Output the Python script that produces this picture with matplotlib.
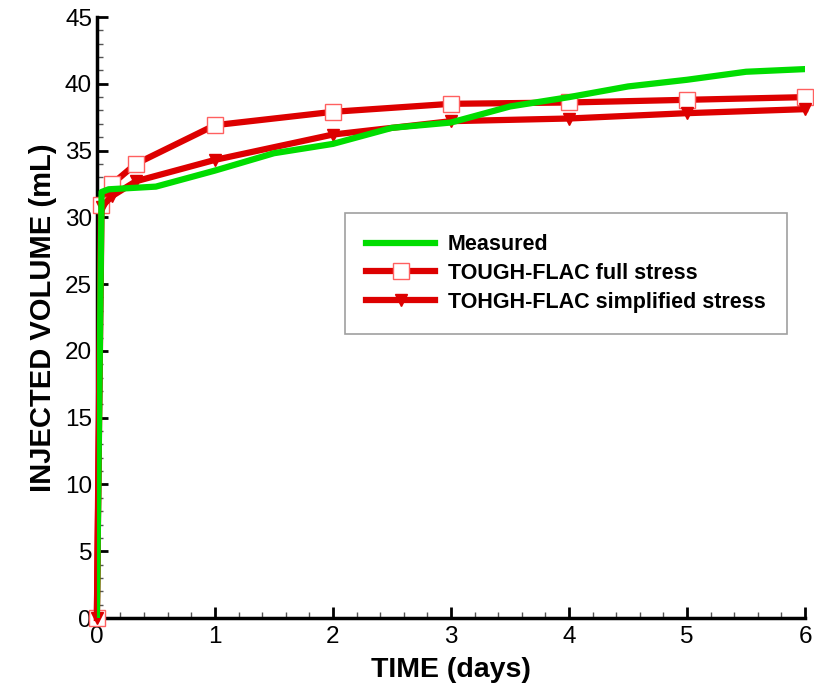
import matplotlib.pyplot as plt
from matplotlib.ticker import MultipleLocator

plt.rcParams['font.family'] = ['Liberation Sans', 'DejaVu Sans']

# measured injected volume
t_meas = [0, 0.04, 0.1, 0.5, 1, 1.5, 2, 2.5, 3, 3.5, 4, 4.5, 5, 5.5, 6]
v_meas = [0, 31.9, 32.1, 32.3, 33.5, 34.8, 35.5, 36.7, 37.1, 38.3, 39.0, 39.8, 40.3, 40.9, 41.1]

# TOUGH-FLAC full stress
t_full = [0, 0.035, 0.13, 0.33, 1, 2, 3, 4, 5, 6]
v_full = [0, 30.9, 32.5, 34.0, 36.9, 37.9, 38.5, 38.6, 38.8, 39.0]

# TOUGH-FLAC simplified stress
t_simp = [0, 0.04, 0.13, 0.33, 1, 2, 3, 4, 5, 6]
v_simp = [0, 30.8, 31.6, 32.7, 34.3, 36.2, 37.2, 37.4, 37.8, 38.1]

red = '#dd0000'
green = '#00dd00'

fig = plt.figure(figsize=(8.14, 6.94), dpi=100)
ax = fig.add_axes([0.119, 0.1095, 0.87, 0.866])

ax.plot(t_full, v_full, color=red, lw=4.5, marker='s', ms=12,
        mfc='white', mec='#ff6060', mew=1, label='TOUGH-FLAC full stress',
        zorder=3, clip_on=False)
ax.plot(t_simp, v_simp, color=red, lw=4.5, marker='v', ms=9,
        mfc=red, mec=red, label='TOHGH-FLAC simplified stress',
        zorder=3, clip_on=False)
ax.plot(t_meas, v_meas, color=green, lw=4.5, label='Measured', zorder=4)

ax.set_xlim(0, 6)
ax.set_ylim(0, 45)
ax.xaxis.set_major_locator(MultipleLocator(1))
ax.xaxis.set_minor_locator(MultipleLocator(0.2))
ax.yaxis.set_major_locator(MultipleLocator(5))
ax.yaxis.set_minor_locator(MultipleLocator(1))
ax.tick_params(which='major', direction='in', length=8, width=2, labelsize=17.5)
ax.tick_params(axis='x', which='major', pad=6)
ax.tick_params(which='minor', direction='in', length=4, width=1, color='#555555')

for side in ['top', 'right']:
    ax.spines[side].set_visible(False)
for side in ['left', 'bottom']:
    ax.spines[side].set_linewidth(2.5)

ax.set_xlabel('TIME (days)', fontsize=20.5, fontweight='bold', labelpad=6)
ax.set_ylabel('INJECTED VOLUME (mL)', fontsize=21, fontweight='bold', labelpad=6)

handles, labels = ax.get_legend_handles_labels()
order = [2, 0, 1]
leg = ax.legend([handles[i] for i in order], [labels[i] for i in order],
                loc='upper left', bbox_to_anchor=(0.35, 0.674), fancybox=False,
                edgecolor='#888888', prop={'weight': 'bold', 'size': 15.5},
                handlelength=3.2, handletextpad=0.6, borderpad=1.0,
                labelspacing=0.35, borderaxespad=0)
leg.get_frame().set_linewidth(1.2)

fig.savefig('out.png', dpi=100)
